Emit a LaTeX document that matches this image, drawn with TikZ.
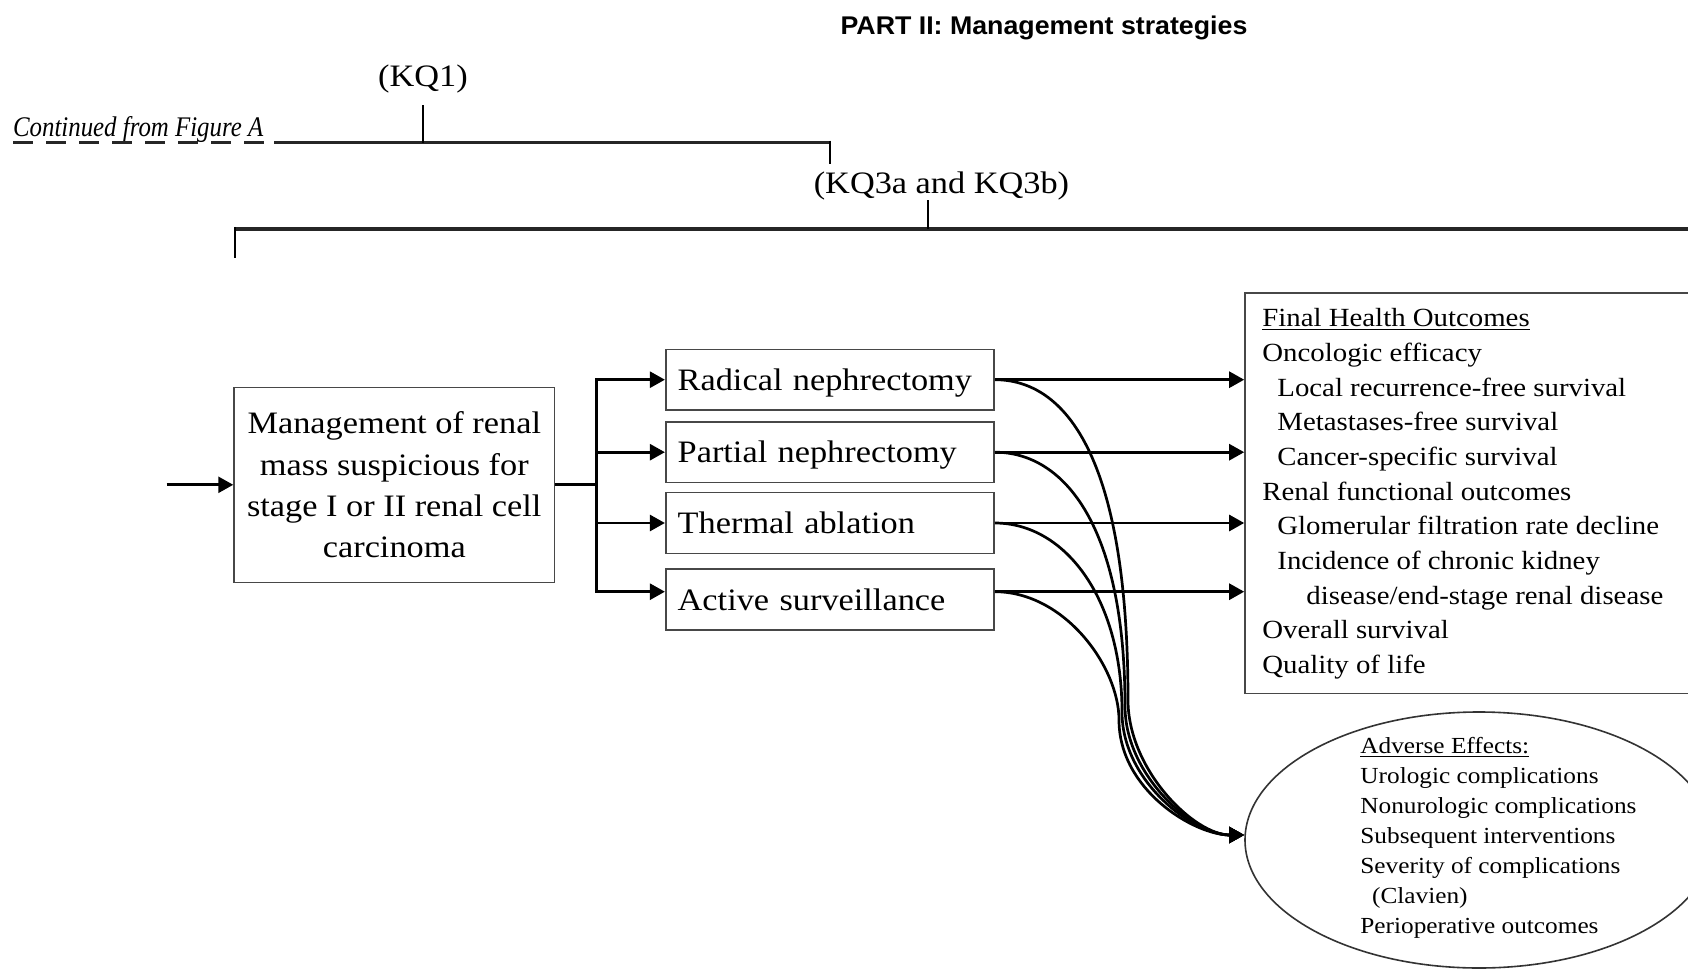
\documentclass[tikz,border=0pt]{standalone}
\usepackage{fontspec}
\setmainfont{Liberation Serif}[FakeStretch=1.1]
\newfontfamily\titlefont{Liberation Sans}[FakeStretch=1.045]
\newfontfamily\contfont{Liberation Serif}[FakeStretch=0.875]
\usetikzlibrary{arrows.meta,shapes.geometric}
\tikzset{
  boxline/.style={draw=black!72, line width=0.8pt},
  conn/.style={line width=1.35pt, -{Triangle[length=7.5pt,width=8pt]}},
  plainline/.style={line width=1.35pt},
  bracket/.style={line width=1.8pt, draw=black!85},
  tickline/.style={line width=1.2pt},
  treat/.style={boxline, minimum width=164.15pt, minimum height=30.4pt,
    text width=152.15pt, inner xsep=6pt, inner ysep=0pt, align=left,
    text height=10.7pt, text depth=0pt,
    font=\fontsize{15.6}{18}\selectfont},
  fhotext/.style={anchor=base west, inner sep=0pt, font=\fontsize{13.1}{15}\selectfont},
  aetext/.style={anchor=base west, inner sep=0pt, font=\fontsize{11.5}{14}\selectfont},
  kqtext/.style={anchor=base, inner sep=0pt, font=\fontsize{15.6}{18}\selectfont},
}
\begin{document}
\begin{tikzpicture}[x=0.5pt,y=-0.5pt]
\useasboundingbox (0,0) rectangle (1688,969);
\clip (0,0) rectangle (1688,969);

% title and key-question labels
\node[anchor=base, inner sep=0pt, font=\titlefont\bfseries\fontsize{12.8}{15}\selectfont] (title) at (1044,34) {PART II: Management strategies};
\node[kqtext] (kq1) at (423,86) {(KQ1)};
\node[anchor=base west, inner sep=0pt, font=\contfont\itshape\fontsize{14.2}{17}\selectfont] (cont) at (12.7,136) {Continued from Figure A};
\node[kqtext] (kq3) at (941.5,193.3) {(KQ3a and KQ3b)};

% bracket coordinates
\coordinate (dashA) at (13,142.5);
\coordinate (dashB) at (266,142.5);
\coordinate (solA) at (274,142.5);
\coordinate (solB) at (830,142.5);
\coordinate (kq1tick) at (423,105);
\coordinate (kq1foot) at (423,142.5);
\coordinate (kq3drop) at (830,163.5);
\coordinate (kq3tick) at (928,200);
\coordinate (br2foot) at (928,228.7);
\coordinate (br2L) at (235,228.7);
\coordinate (br2R) at (1700,228.7);
\coordinate (br2Ldown) at (235,258);

\draw[bracket, dash pattern=on 10pt off 6.5pt] (dashA) -- (dashB);
\draw[bracket] (solA) -- (solB);
\draw[tickline] ([yshift=0.9pt]solB) -- (kq3drop);
\draw[tickline] (kq1tick) -- (kq1foot);
\draw[bracket] (br2L) -- (br2R);
\draw[tickline] ([yshift=0.9pt]br2L) -- (br2Ldown);
\draw[tickline] (kq3tick) -- (br2foot);

% main box
\node[boxline, minimum width=160.25pt, minimum height=97.5pt, align=center, inner sep=0pt,
  font=\fontsize{15.6}{20.55}\selectfont] (mgmt) at (394.3,484.8)
  {Management of renal\\mass suspicious for\\stage I or II renal cell\\carcinoma};
\coordinate (in) at (166.7,484.8);
\draw[conn] (in) -- (mgmt.west);

% treatment boxes
\node[treat] (rn) at (829.85,379.7) {Radical nephrectomy};
\node[treat] (pn) at (829.85,452.2) {Partial nephrectomy};
\node[treat] (ta) at (829.85,523) {Thermal ablation};
\node[treat] (as) at (829.85,599.3) {Active surveillance};
\coordinate (asin) at ([yshift=3.8pt]as.west);
\coordinate (asout) at ([yshift=3.8pt]as.east);

\coordinate (split) at (596.7,484.8);
\draw[plainline] (mgmt.east) -- (split);
\draw[conn] (split) |- (rn.west);
\draw[conn] (split) |- (pn.west);
\draw[conn] (split) |- (ta.west);
\draw[conn] (split) |- (asin);

% final health outcomes box
\node[boxline, minimum width=227.5pt, minimum height=200.3pt, inner sep=0pt] (fho) at (1472.5,493) {};
\node[fhotext] (fho0) at (1262,326.7) {\underline{Final Health Outcomes}};
\node[fhotext] (fho1) at (1262,361.4) {Oncologic efficacy};
\node[fhotext] (fho2) at (1277,396.0) {Local recurrence-free survival};
\node[fhotext] (fho3) at (1277,430.7) {Metastases-free survival};
\node[fhotext] (fho4) at (1277,465.3) {Cancer-specific survival};
\node[fhotext] (fho5) at (1262,500.0) {Renal functional outcomes};
\node[fhotext] (fho6) at (1277,534.7) {Glomerular filtration rate decline};
\node[fhotext] (fho7) at (1277,569.3) {Incidence of chronic kidney};
\node[fhotext] (fho8) at (1306,604.0) {disease/end-stage renal disease};
\node[fhotext] (fho9) at (1262,638.6) {Overall survival};
\node[fhotext] (fho10) at (1262,673.3) {Quality of life};

% adverse effects ellipse
\node[draw=black!80, line width=0.8pt, ellipse, minimum width=234pt, minimum height=128pt, inner sep=0pt] (ae) at (1479,840) {};
\node[aetext] (ae0) at (1360,753) {\underline{Adverse Effects:}};
\node[aetext] (ae1) at (1360,783) {Urologic complications};
\node[aetext] (ae2) at (1360,813) {Nonurologic complications};
\node[aetext] (ae3) at (1360,843) {Subsequent interventions};
\node[aetext] (ae4) at (1360,873) {Severity of complications};
\node[aetext] (ae5) at (1371.7,903) {(Clavien)};
\node[aetext] (ae6) at (1360,933) {Perioperative outcomes};
\coordinate (aein) at ([yshift=2.5pt]ae.west);

% straight arrows to outcomes
\draw[conn] (rn.east) -- (rn.east -| fho.west);
\draw[conn] (pn.east) -- (pn.east -| fho.west);
\draw[conn] (ta.east) -- (ta.east -| fho.west);
\draw[conn] (asout) -- (asout -| fho.west);

% curved arrows to adverse effects
\coordinate (b1) at (1128,700);
\coordinate (b2) at (1125,706);
\coordinate (b3) at (1122,712);
\coordinate (b4) at (1119,720);
\draw[conn] (rn.east) .. controls +(70,0) and +(0,-245) .. (b1) .. controls +(0,70) and +(-50,0) .. (aein);
\draw[conn] (pn.east) .. controls +(70,0) and +(0,-179) .. (b2) .. controls +(0,70) and +(-50,0) .. (aein);
\draw[conn] (ta.east) .. controls +(70,0) and +(0,-114) .. (b3) .. controls +(0,70) and +(-50,0) .. (aein);
\draw[conn] (asout) .. controls +(70,0) and +(0,-53) .. (b4) .. controls +(0,70) and +(-50,0) .. (aein);
\end{tikzpicture}
\end{document}
